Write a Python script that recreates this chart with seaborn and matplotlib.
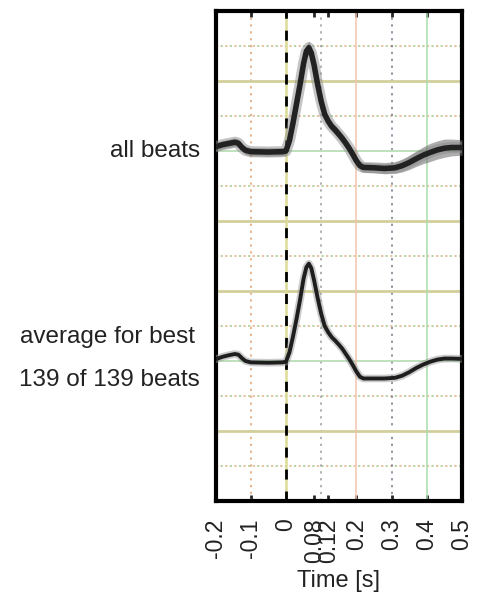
import matplotlib
matplotlib.use("Agg")
import matplotlib.pyplot as plt
import seaborn as sns
import numpy as np

# ---- data ----
time_s = [-0.2, -0.18, -0.16, -0.145, -0.135, -0.125, -0.115, -0.1, -0.05, -0.01,
          0.0, 0.01, 0.02, 0.03, 0.04, 0.05, 0.058, 0.065, 0.072, 0.08,
          0.09, 0.1, 0.11, 0.12, 0.13, 0.14, 0.15, 0.16, 0.17, 0.18,
          0.19, 0.2, 0.21, 0.22, 0.25, 0.28, 0.31, 0.33, 0.35, 0.37,
          0.39, 0.41, 0.43, 0.45, 0.47, 0.5]
all_beats_center = [0.12, 0.18, 0.22, 0.25, 0.22, 0.1, 0.02, -0.02, -0.03, -0.02,
                    0.0, 0.3, 0.8, 1.35, 1.9, 2.5, 2.85, 2.95, 2.8, 2.45,
                    1.9, 1.42, 1.05, 0.85, 0.7, 0.6, 0.48, 0.36, 0.22, 0.07,
                    -0.1, -0.28, -0.42, -0.47, -0.48, -0.5, -0.48, -0.42, -0.33, -0.22,
                    -0.12, -0.04, 0.03, 0.08, 0.1, 0.1]
all_beats_spread = [0.12, 0.12, 0.12, 0.12, 0.12, 0.12, 0.12, 0.12, 0.12, 0.12,
                    0.12, 0.14, 0.14, 0.14, 0.14, 0.16, 0.18, 0.2, 0.18, 0.16,
                    0.14, 0.14, 0.14, 0.14, 0.14, 0.14, 0.14, 0.14, 0.14, 0.14,
                    0.14, 0.14, 0.14, 0.14, 0.14, 0.15, 0.16, 0.18, 0.2, 0.22,
                    0.24, 0.26, 0.26, 0.26, 0.24, 0.22]
average_beat = [0.05, 0.12, 0.17, 0.2, 0.18, 0.08, 0.0, -0.04, -0.05, -0.04,
                -0.02, 0.25, 0.7, 1.2, 1.75, 2.35, 2.68, 2.78, 2.65, 2.3,
                1.8, 1.35, 1.0, 0.82, 0.68, 0.58, 0.47, 0.35, 0.2, 0.05,
                -0.12, -0.3, -0.45, -0.5, -0.5, -0.5, -0.48, -0.42, -0.32, -0.2,
                -0.1, -0.02, 0.04, 0.07, 0.07, 0.06]
baseline_all = 10
baseline_avg = 4

tick_values = [-0.2, -0.1, 0, 0.08, 0.12, 0.2, 0.3, 0.4, 0.5]
tick_labels = ['-0.2', '-0.1', '0', '0.08', '0.12', '0.2', '0.3', '0.4', '0.5']

label_all = "all beats"
label_avg_1 = "average for best"
label_avg_2 = "139 of 139 beats"
x_label = "Time [s]"

# grid structure
h_major = [2, 6, 8, 12]
h_base = [4, 10]
h_dotted = [1, 3, 5, 7, 9, 11, 13]
v_dotted = [-0.1, 0.1, 0.3]
v_dotted_colors = ['#e2a070', '#9a9a9a', '#6f7a8c']
v_solid = [0.2, 0.4]
v_solid_colors = ['#f2c4ac', '#a9dcaa']

# ---- figure ----
sns.set_style("white")
plt.rcParams['font.family'] = ['Liberation Sans', 'DejaVu Sans']

fig = plt.figure(figsize=(4.79, 6.01), dpi=100)
ax = fig.add_axes([0.45, 0.1664, 0.5145, 0.8153])
ax.set_xlim(-0.2, 0.5)
ax.set_ylim(0, 14)

for y in h_dotted:
    ax.axhline(y, color='#e6b088', lw=1.1, linestyle=(0, (1.5, 4.5)), zorder=1)
    ax.axhline(y, color='#a8c88c', lw=1.1, linestyle=(3, (1.5, 4.5)), zorder=1)
for x, col in zip(v_dotted, v_dotted_colors):
    ax.axvline(x, color=col, lw=1.1, linestyle=(0, (1.5, 3.0)), zorder=1)
for y in h_major:
    ax.axhline(y, color='#d3cf9c', lw=2.0, zorder=1)
for y in h_base:
    ax.axhline(y, color='#b3dcb0', lw=1.2, zorder=1)
for x, col in zip(v_solid, v_solid_colors):
    ax.axvline(x, color=col, lw=1.1, zorder=1)
ax.axvline(0, color='#dcdc98', lw=1.8, zorder=1)
ax.axvline(0, color='black', lw=2.0, dashes=(3.6, 4.3), zorder=2)

# all beats band
t = np.array(time_s)
c = np.array(all_beats_center) + baseline_all
s = np.array(all_beats_spread)
ax.fill_between(t, c - s, c + s, color='#6a6a6a', alpha=0.55, lw=0, zorder=3)
sns.lineplot(x=time_s, y=list(c), ax=ax, color='#8a8a8a', lw=8.0, alpha=0.5, zorder=3)
sns.lineplot(x=time_s, y=list(c), ax=ax, color='#222222', lw=4.0, zorder=4)

# average beat
a = np.array(average_beat) + baseline_avg
sns.lineplot(x=time_s, y=list(a), ax=ax, color='#9a9a9a', lw=5.5, alpha=0.5, zorder=3)
sns.lineplot(x=time_s, y=list(a), ax=ax, color='#1e1e1e', lw=2.8, zorder=4)

# axes styling
for sp in ax.spines.values():
    sp.set_visible(True)
    sp.set_color('black')
    sp.set_linewidth(3.0)
ax.set_yticks([])
ax.set_xticks(tick_values)
ax.set_xticklabels(tick_labels, rotation=90, fontsize=16.5, color='#222222')
ax.tick_params(axis='x', direction='in', length=4, width=2, top=True, bottom=True, pad=12.5)
ax.set_xlabel(x_label, fontsize=17, color='#222222', labelpad=5)

ax.text(-0.244, 10, label_all, ha='right', va='center', fontsize=17.5, color='#222222', clip_on=False)
ax.text(-0.258, 4.69, label_avg_1, ha='right', va='center', fontsize=17.5, color='#222222', clip_on=False)
ax.text(-0.244, 3.46, label_avg_2, ha='right', va='center', fontsize=17.5, color='#222222', clip_on=False)

fig.savefig("out.png", dpi=100)
